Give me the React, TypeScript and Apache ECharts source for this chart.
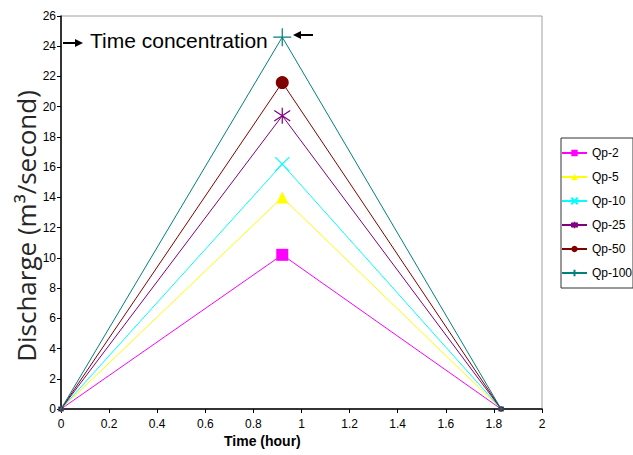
import React, { useEffect, useRef } from "react";
import * as echarts from "echarts";

const timeHours = [0, 0.92, 1.83];
const seriesNames = ["Qp-2", "Qp-5", "Qp-10", "Qp-25", "Qp-50", "Qp-100"];
const qp2 = [0, 10.2, 0];
const qp5 = [0, 14.0, 0];
const qp10 = [0, 16.2, 0];
const qp25 = [0, 19.4, 0];
const qp50 = [0, 21.6, 0];
const qp100 = [0, 24.6, 0];
const xTicks = [0, 0.2, 0.4, 0.6, 0.8, 1, 1.2, 1.4, 1.6, 1.8, 2];
const yTicks = [0, 2, 4, 6, 8, 10, 12, 14, 16, 18, 20, 22, 24, 26];

const colors = ["#FF00FF", "#FFFF00", "#00FFFF", "#800080", "#800000", "#008080"];
const symbols = [
  "rect",
  "triangle",
  "path://M0,0L10,10M10,0L0,10",
  "path://M0,1L10,9M10,1L0,9M5,-1L5,11",
  "circle",
  "path://M0,5L10,5M5,0L5,10",
];
const peakSizes = [12, 12, 14, 16, 13, 18];
const values = [qp2, qp5, qp10, qp25, qp50, qp100];

export default function App() {
  const ref = useRef<HTMLDivElement>(null);
  useEffect(() => {
    if (!ref.current) return;
    const chart = echarts.init(ref.current, null, { renderer: "svg" });
    const series = seriesNames.map((name, i) => {
      const isPath = symbols[i].startsWith("path://");
      return {
        name,
        type: "line",
        data: timeHours.map((t, k) => ({
          value: [t, values[i][k]],
          symbolSize: k === 1 ? peakSizes[i] : 5,
        })),
        symbol: symbols[i],
        showAllSymbol: true,
        lineStyle: { color: colors[i], width: 1 },
        itemStyle: isPath
          ? { color: colors[i], borderColor: colors[i], borderWidth: 1.2 }
          : { color: colors[i] },
        z: 2 + i,
      };
    });
    chart.setOption({
      animation: false,
      backgroundColor: "#ffffff",
      textStyle: { fontFamily: "Arial, 'Liberation Sans', sans-serif" },
      grid: {
        left: 61,
        right: 91,
        top: 16,
        bottom: 46,
        show: true,
        borderColor: "#a0a0a0",
        borderWidth: 1,
      },
      legend: {
        orient: "vertical",
        left: 561,
        top: 138,
        data: seriesNames,
        itemWidth: 25,
        itemHeight: 8,
        itemGap: 12,
        padding: [9, 1, 9, 0],
        borderColor: "#333333",
        borderWidth: 1,
        textStyle: { fontSize: 12, color: "#000", fontFamily: "Arial, 'Liberation Sans', sans-serif" },
      },
      xAxis: {
        type: "value",
        min: 0,
        max: 2,
        interval: 0.2,
        axisLine: { show: true, lineStyle: { color: "#000", width: 1.5 } },
        axisTick: { show: true, inside: false, length: 4, lineStyle: { color: "#000" } },
        axisLabel: {
          fontSize: 12,
          color: "#000",
          margin: 9,
          formatter: (v: number) => {
            const m = xTicks.find((t) => Math.abs(t - v) < 1e-6);
            return m !== undefined ? String(m) : "";
          },
        },
        splitLine: { show: false },
      },
      yAxis: {
        type: "value",
        min: 0,
        max: 26,
        interval: 2,
        axisLine: { show: true, lineStyle: { color: "#000", width: 1.5 } },
        axisTick: { show: true, inside: false, length: 4, lineStyle: { color: "#000" } },
        axisLabel: {
          fontSize: 12,
          color: "#000",
          margin: 5,
          formatter: (v: number) => {
            const m = yTicks.find((t) => Math.abs(t - v) < 1e-6);
            return m !== undefined ? String(m) : "";
          },
        },
        splitLine: { show: false },
      },
      graphic: [
        {
          type: "text",
          x: 26,
          y: 226,
          rotation: Math.PI / 2,
          style: {
            text: "Discharge (m³/second)",
            font: "26px 'Open Sans', 'Noto Sans', sans-serif",
            fill: "#262626",
            textAlign: "center",
            textVerticalAlign: "middle",
          },
        },
        {
          type: "text",
          left: 224,
          top: 434,
          style: {
            text: "Time (hour)",
            font: "bold 14px Arial, 'Liberation Sans', sans-serif",
            fill: "#000",
          },
        },
        {
          type: "text",
          left: 90,
          top: 30,
          style: {
            text: "Time concentration",
            font: "21px Arial, 'Liberation Sans', sans-serif",
            fill: "#000",
          },
        },
        {
          type: "line",
          shape: { x1: 63, y1: 43, x2: 76, y2: 43 },
          style: { stroke: "#000", lineWidth: 2 },
        },
        {
          type: "polygon",
          shape: { points: [[83, 43], [75, 39], [75, 47]] },
          style: { fill: "#000" },
        },
        {
          type: "line",
          shape: { x1: 313, y1: 35, x2: 300, y2: 35 },
          style: { stroke: "#000", lineWidth: 2 },
        },
        {
          type: "polygon",
          shape: { points: [[293, 35], [301, 31], [301, 39]] },
          style: { fill: "#000" },
        },
      ],
      series,
    });
    return () => chart.dispose();
  }, []);
  return <div ref={ref} style={{ width: 633, height: 455, position: "absolute", left: 0, top: 0 }} />;
}
